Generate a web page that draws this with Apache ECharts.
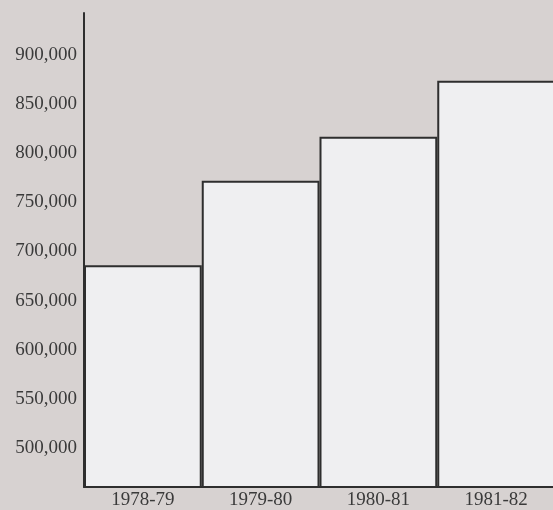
<!DOCTYPE html>
<html><head><meta charset="utf-8">
<script src="https://cdn.jsdelivr.net/npm/echarts@6/dist/echarts.min.js"></script>
<style>html,body{margin:0;padding:0;background:#d7d2d1;overflow:hidden;}#c{width:555px;height:510px;}</style>
</head><body><div id="c"></div>
<script>
const categories = ['1978-79', '1979-80', '1980-81', '1981-82'];
const enrolment = [686000, 772000, 817000, 874000];
const tickValues = [500000, 550000, 600000, 650000, 700000, 750000, 800000, 850000, 900000];

const chart = echarts.init(document.getElementById('c'));
const font = '"Liberation Serif", "DejaVu Serif", serif';
chart.setOption({
  backgroundColor: '#d7d2d1',
  animation: false,
  grid: { left: 84, right: 0, top: 13, bottom: 23, containLabel: false },
  xAxis: {
    type: 'category',
    data: categories,
    axisLine: { lineStyle: { color: '#2e2e2e', width: 2 } },
    axisTick: { show: false },
    axisLabel: { color: '#3a3a3a', fontFamily: font, fontSize: 19, margin: 4 }
  },
  yAxis: {
    type: 'value',
    min: 460000,
    max: 943000,
    interval: 10000,
    axisLine: { show: true, lineStyle: { color: '#2e2e2e', width: 2 } },
    axisTick: { show: false },
    splitLine: { show: false },
    axisLabel: {
      color: '#3a3a3a', fontFamily: font, fontSize: 19, margin: 7,
      padding: [3, 0, 0, 0],
      formatter: v => tickValues.includes(v) ? v.toLocaleString('en-US') : ''
    }
  },
  series: [{
    type: 'bar',
    data: enrolment,
    barCategoryGap: '0%',
    itemStyle: { color: '#efeff1', borderColor: '#2e2e2e', borderWidth: 2 }
  }]
});
</script></body></html>
